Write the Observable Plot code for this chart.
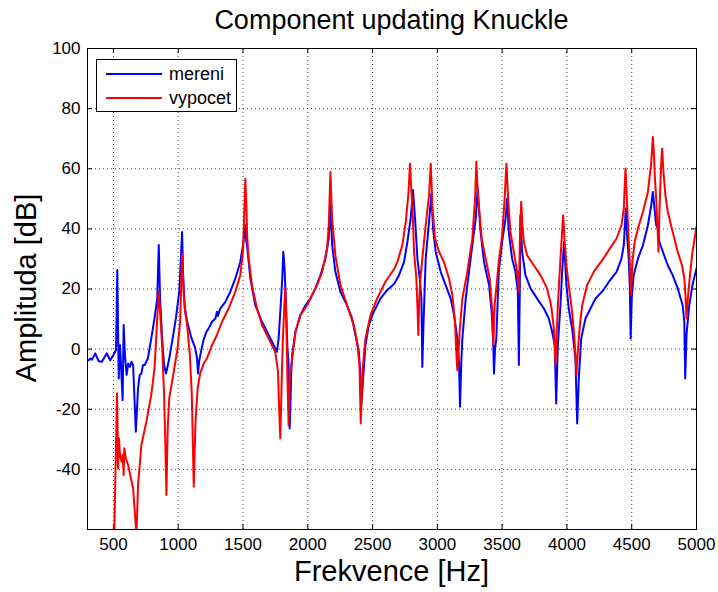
<!DOCTYPE html>
<html><head><meta charset="utf-8">
<script src="https://cdn.jsdelivr.net/npm/d3@7"></script>
<script src="https://cdn.jsdelivr.net/npm/@observablehq/plot@0.6"></script>
<style>
body{margin:0;background:#fff;font-family:"Liberation Sans",Arial,sans-serif;}
#wrap{position:relative;width:718px;height:592px;overflow:hidden;}
#chart svg{display:block;}
.title{position:absolute;left:87px;width:609px;top:4px;text-align:center;font-size:27px;line-height:32px;color:#000;}
.xlab{position:absolute;left:87px;width:609px;top:555px;text-align:center;font-size:29px;line-height:33px;color:#000;}
.ylab{position:absolute;left:26px;top:288px;transform:translate(-50%,-50%) rotate(-90deg);white-space:nowrap;font-size:29px;line-height:33px;color:#000;}
.legend{position:absolute;left:96px;top:59px;width:139px;height:51px;border:1px solid #000;background:#fff;}
.legend .row{position:absolute;left:0;height:22px;display:flex;align-items:center;font-size:18px;}
.legend .sw{width:56px;height:2px;margin-left:9px;margin-right:7px;}
</style></head>
<body>
<div id="wrap">
  <div id="chart"></div>
  <div class="title">Component updating Knuckle</div>
  <div class="xlab">Frekvence [Hz]</div>
  <div class="ylab">Amplituda [dB]</div>
  <div class="legend" id="legend"></div>
</div>
<script>
const seriesNames = ["mereni", "vypocet"];
const seriesColors = ["#0000ff", "#ff0000"];
const xTicks = [500, 1000, 1500, 2000, 2500, 3000, 3500, 4000, 4500, 5000];
const yTicks = [-40, -20, 0, 20, 40, 60, 80, 100];

const mereniHz = [310,322,335,360,386,411,449,475,500,520,530,541,551,561,571,579,589,602,614,627,640,652,673,690,703,716,728,741,766,792,817,838,850,860,876,891,906,931,957,982,1008,1023,1030,1038,1050,1070,1100,1130,1145,1153,1162,1175,1195,1215,1235,1261,1287,1299,1306,1312,1325,1364,1402,1441,1479,1500,1510,1518,1525,1531,1557,1595,1647,1698,1737,1762,1775,1791,1803,1811,1816,1822,1832,1842,1852,1860,1866,1872,1879,1905,1943,1982,2021,2059,2098,2136,2162,2175,2188,2213,2252,2303,2342,2368,2394,2406,2414,2427,2445,2471,2509,2561,2612,2669,2704,2743,2769,2794,2812,2828,2846,2864,2877,2884,2892,2897,2910,2936,2954,2967,2987,3026,3064,3103,3129,3154,3167,3175,3185,3193,3219,3244,3270,3296,3311,3322,3334,3360,3399,3419,3432,3437,3445,3455,3474,3500,3526,3539,3551,3577,3603,3621,3629,3636,3641,3654,3680,3719,3770,3822,3860,3886,3906,3917,3930,3950,3963,3978,3996,4014,4040,4066,4079,4092,4110,4143,4182,4220,4281,4332,4383,4421,4439,4454,4464,4477,4485,4492,4500,4515,4548,4587,4625,4651,4663,4676,4689,4702,4714,4740,4778,4816,4855,4893,4906,4913,4923,4944,4969,5000];
const mereniDb = [-3.7,-3.1,-3.5,-1.4,-4.0,-4.2,-1.4,-3.7,-2.0,-0.3,26.3,-9.8,1.3,-7.5,-17.0,8.0,-2.0,-8.6,-4.8,-5.9,-4.2,-5.3,-27.5,-13.1,-8.6,-8.1,-5.3,-5.3,-3.1,3.5,10.2,16.8,34.6,16.8,3.5,-5.3,-8.1,-3.1,3.5,10.2,19.1,32.4,39.0,25,14,9,4,0.5,-3,-8.1,-4,-1,3,5.5,6.9,9.1,10.2,12.4,11.0,11.9,13.5,15.7,19.1,23.5,29.0,34.6,38,41.2,36,34.6,23.5,14.6,9.1,4.7,1.3,-0.9,3.5,14.6,23.5,32.4,30,25.7,14.6,1.3,-5.3,-26.4,-18.6,-8,-2.0,5.8,11.3,14.6,16.8,20.2,24.6,30.1,36.8,47.9,34.6,25.7,19.1,14.6,10.2,4.7,-0.9,-8.6,-18.6,-9.8,1.3,8.0,12.4,16.8,19.6,21.8,24.6,29.0,35.7,43.4,52.9,43.4,30.1,23.5,16.8,-5.9,6.9,13.5,30.1,42.3,51.7,40.1,32.4,25.7,21.3,16.8,11.3,3.5,-4.2,-19.2,-4.2,3.5,16.8,25.7,34.6,43.4,53.4,45.7,39.0,29.0,21.3,12.4,1.3,-8.1,0,3.5,25.7,35.7,43.4,50.1,39.0,30.1,25.7,19.1,-5.3,19.1,44.5,32.4,24.6,20.2,16.8,13.5,10.2,5.8,1.3,-18.1,1.3,14.6,25.7,35.7,21.3,13.5,6.9,-3.1,-24.7,-9.8,3.5,10.2,13.5,16.8,19.6,22.9,25.7,30.1,34.6,46.8,37.9,30.1,21.3,3.5,16.8,24.6,30.1,34.6,41.2,47.9,52.3,46.8,41.2,40.1,35.7,32.4,27.9,24.6,20.2,14.6,9.1,-9.8,4.7,14.6,21.3,26.8];

const vypocetHz = [505,520,528,536,543,551,563,571,579,584,596,614,635,652,665,678,690,716,754,792,817,830,843,850,860,876,891,901,909,919,931,957,995,1015,1030,1041,1055,1069,1090,1105,1120,1133,1150,1170,1197,1222,1261,1299,1338,1389,1441,1479,1500,1510,1518,1526,1533,1544,1569,1608,1647,1698,1749,1770,1780,1788,1796,1806,1819,1827,1834,1842,1852,1862,1883,1905,1943,1995,2033,2072,2111,2149,2162,2170,2175,2180,2188,2213,2252,2303,2355,2381,2399,2409,2417,2424,2445,2484,2535,2599,2669,2691,2730,2756,2776,2789,2797,2807,2820,2838,2848,2853,2859,2869,2884,2910,2936,2949,2956,2961,2982,3013,3051,3090,3116,3136,3146,3154,3162,3172,3193,3231,3270,3291,3301,3309,3316,3342,3373,3404,3424,3432,3442,3455,3474,3500,3518,3533,3539,3546,3564,3590,3616,3629,3636,3647,3657,3667,3693,3744,3796,3847,3878,3899,3912,3919,3930,3950,3963,3971,3981,3996,4014,4040,4058,4074,4084,4100,4118,4156,4207,4281,4332,4383,4421,4439,4446,4452,4459,4467,4474,4485,4495,4505,4523,4548,4587,4625,4651,4663,4671,4679,4689,4707,4714,4727,4735,4745,4760,4778,4816,4855,4888,4906,4913,4923,4933,4949,4969,4990,5000];
const vypocetDb = [-65,-31.9,-14.7,-39.7,-29.7,-35.2,-37.5,-35.2,-41.9,-33.0,-36.3,-38.6,-43.0,-46.3,-54.1,-62,-45.2,-31.9,-24.2,-15.3,-6.4,3.5,14.6,19.1,12.4,1.3,-15.3,-31.9,-48.5,-26.4,-16.4,-9.8,0.2,9.1,31.8,19.1,12,8,-2,-15,-45.8,-24.7,-13,-8,-4.8,-3.1,1.3,4.7,9.1,13.5,19.1,24.6,32.4,45.7,56.7,47.9,36.8,30.1,21.3,13.5,8.0,3.5,-0.9,-7.5,-20.8,-29.7,-15.3,1.3,14.6,20.2,10.2,-7.5,-25.3,-9.8,-2.0,5.8,11.3,14.6,18.0,21.3,25.7,33.5,41.2,52.3,58.9,52.3,43.4,31.2,21.3,14.6,8.0,2.4,-5.3,-24.7,-14.2,-6.4,3.5,11.3,16.8,22.4,26.8,29.0,34.6,42.3,51.2,61.7,54.5,47.9,32.4,23.5,12.4,4.7,14.6,23.5,30.1,41.2,51.2,61.7,54.5,47.9,36.8,32.4,29.0,23.5,18.0,9.1,-0.9,-7.0,-2.0,5.8,16.8,25.7,36.8,50.1,62.3,54.5,50.1,36.8,30.1,23.5,12.4,1.3,14.6,20.2,29.0,37.9,49.0,61.7,56.7,50.1,39.0,32.4,25.7,19.1,34.6,49.0,41.2,35.7,31.2,27.9,24.6,20.2,14.6,6.9,-5.3,3.5,14.6,30.1,39.0,44.5,36.8,27.9,21.3,12.4,3.5,-8.6,-0.9,8.0,14.6,21.3,25.7,30.1,33.5,36.8,41.2,46.8,54.5,60.1,53.4,45.7,39.0,29.0,18.0,29.0,35.7,40.1,45.7,52.3,62.3,70.6,65.6,56.7,50.1,32.4,45.7,61.2,66.7,58.9,51.2,45.7,39.0,32.4,27.9,23.5,19.1,10.2,16.8,24.3,32.4,37.9,40.7];

const mereni = mereniHz.map((f, i) => ({f, db: mereniDb[i]}));
const vypocet = vypocetHz.map((f, i) => ({f, db: vypocetDb[i]}));

const W = 718, H = 592, mL = 87, mR = 22, mT = 48, mB = 63;
const fw = W - mL - mR, fh = H - mT - mB, tk = 5;

const chart = Plot.plot({
  width: W, height: H,
  marginLeft: mL, marginRight: mR, marginTop: mT, marginBottom: mB,
  style: {fontFamily: '"Liberation Sans", Arial, sans-serif', fontSize: "17px", color: "#000", background: "#fff"},
  x: {domain: [300, 5000], ticks: xTicks, tickSize: 0, tickPadding: 8, tickFormat: d => String(d), label: null},
  y: {domain: [-60, 100], ticks: yTicks, tickSize: 0, tickPadding: 7, tickFormat: d => String(d), label: null},
  marks: [
    Plot.ruleX(xTicks, {x: d => d, stroke: "#000", strokeOpacity: 0.75, strokeWidth: 1, strokeDasharray: "1,3"}),
    Plot.ruleY(yTicks, {y: d => d, stroke: "#000", strokeOpacity: 0.75, strokeWidth: 1, strokeDasharray: "1,3"}),
    Plot.ruleX(xTicks, {x: d => d, stroke: "#000", insetTop: fh - tk}),
    Plot.ruleX(xTicks, {x: d => d, stroke: "#000", insetBottom: fh - tk}),
    Plot.ruleY(yTicks, {y: d => d, stroke: "#000", insetRight: fw - tk}),
    Plot.ruleY(yTicks, {y: d => d, stroke: "#000", insetLeft: fw - tk}),
    Plot.line(mereni, {x: "f", y: "db", stroke: seriesColors[0], strokeWidth: 2, clip: true}),
    Plot.line(vypocet, {x: "f", y: "db", stroke: seriesColors[1], strokeWidth: 2, clip: true}),
    Plot.frame({stroke: "#000", strokeWidth: 1})
  ]
});
document.getElementById("chart").appendChild(chart);

const legend = document.getElementById("legend");
seriesNames.forEach((name, i) => {
  const row = document.createElement("div");
  row.className = "row";
  row.style.top = (3 + i * 24) + "px";
  const sw = document.createElement("div");
  sw.className = "sw";
  sw.style.background = seriesColors[i];
  const t = document.createElement("span");
  t.textContent = name;
  row.appendChild(sw);
  row.appendChild(t);
  legend.appendChild(row);
});
</script>
</body></html>
